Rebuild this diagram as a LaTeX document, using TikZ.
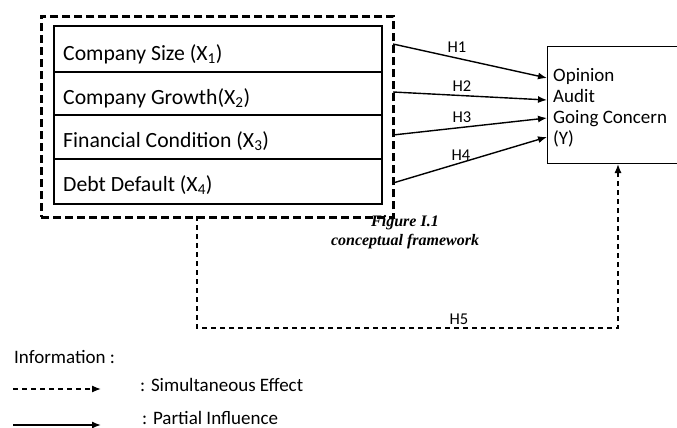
\documentclass[tikz,border=0pt]{standalone}
\usepackage{fontspec}
\setmainfont{Carlito}
\newfontfamily\capfont{Liberation Serif}
\usetikzlibrary{arrows.meta}
\begin{document}
\begin{tikzpicture}[x=1pt,y=-1pt,
  rowbox/.style={draw, line width=2.2pt, anchor=north west, minimum width=328pt, inner sep=0pt},
  rowtext/.style={anchor=base west, inner sep=0pt, font=\fontsize{21.7}{24}\selectfont},
  grpbox/.style={draw, line width=2.8pt, dash pattern=on 8pt off 4pt, anchor=north west, minimum width=352pt, minimum height=201pt, inner sep=0pt},
  ybox/.style={draw, line width=1.3pt, anchor=north west, minimum width=140pt, minimum height=117pt, inner sep=0pt},
  partial/.style={line width=1.4pt, -{Latex[length=9pt,width=7pt]}},
  simult/.style={line width=1.3pt, dash pattern=on 5pt off 4pt, -{Latex[length=9pt,width=7pt]}},
  hlabel/.style={inner sep=0pt, font=\fontsize{16.5}{18}\selectfont},
  legtext/.style={anchor=west, inner sep=0pt, font=\fontsize{19}{21}\selectfont},
  captext/.style={inner sep=0pt, font=\capfont\bfseries\itshape\fontsize{16}{18}\selectfont}
]
\useasboundingbox (0,0) rectangle (677,428);

% group of independent variables
\node[grpbox] (grp) at (40,15) {};
\node[rowbox, minimum height=46pt] (r1) at (53,25) {};
\node[rowbox, minimum height=43pt] (r2) at (53,71) {};
\node[rowbox, minimum height=44pt] (r3) at (53,114) {};
\node[rowbox, minimum height=45pt] (r4) at (53,158) {};
\node[rowtext] (t1) at (63,60) {Company Size (X\textsubscript{1})};
\node[rowtext] (t2) at (63,104) {Company Growth(X\textsubscript{2})};
\node[rowtext] (t3) at (63,147) {Financial Condition (X\textsubscript{3})};
\node[rowtext] (t4) at (63,191) {Debt Default (X\textsubscript{4})};

% dependent variable
\node[ybox] (Y) at (547,46) {};
\node[anchor=north west, inner sep=0pt, align=left, font=\fontsize{19}{21}\selectfont] (yt) at (553,68) {Opinion\\Audit\\Going Concern\\(Y)};

% partial arrows
\coordinate (s1) at (393,44);
\coordinate (s2) at (393,92);
\coordinate (s3) at (393,135);
\coordinate (s4) at (393,183);
\coordinate (e1) at (547,78);
\coordinate (e2) at (547,100);
\coordinate (e3) at (547,118);
\coordinate (e4) at (547,137);
\draw[partial] (s1) -- (e1);
\draw[partial] (s2) -- (e2);
\draw[partial] (s3) -- (e3);
\draw[partial] (s4) -- (e4);
\node[hlabel] (h1) at (457,47) {H1};
\node[hlabel] (h2) at (462,86) {H2};
\node[hlabel] (h3) at (462,117) {H3};
\node[hlabel] (h4) at (461,155) {H4};

% simultaneous arrow
\coordinate (g5) at (197,216);
\coordinate (y5) at (618,164);
\draw[simult] (g5) -- (197,328) -- (618,328) -- (y5);
\node[hlabel] (h5) at (459,319) {H5};

% caption
\node[captext] (cap1) at (405,223) {Figure I.1};
\node[captext] (cap2) at (405,242) {conceptual framework};

% legend
\node[legtext] (info) at (14,357) {Information :};
\coordinate (la1) at (13,389);
\coordinate (la2) at (101,389);
\draw[simult] (la1) -- (la2);
\node[legtext] (l1) at (140,385) {: Simultaneous Effect};
\coordinate (lb1) at (13,425);
\coordinate (lb2) at (101,425);
\draw[partial] (lb1) -- (lb2);
\node[legtext] (l2) at (142,418) {: Partial Influence};
\end{tikzpicture}
\end{document}
